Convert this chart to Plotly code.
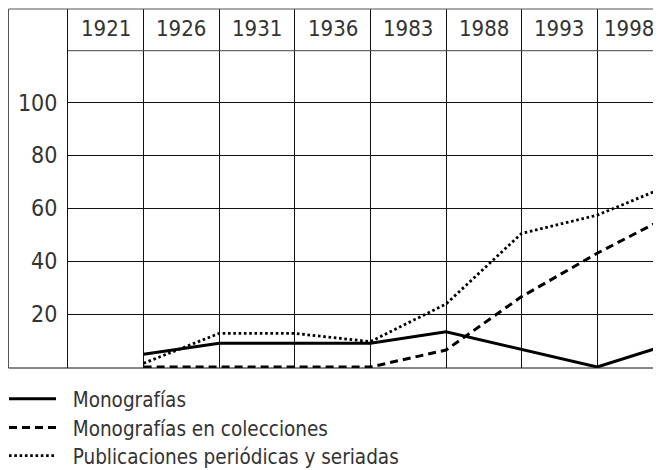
import plotly.graph_objects as go

# ---- data ----
years = ["1921", "1926", "1931", "1936", "1983", "1988", "1993", "1998"]
monografias = [4.8, 9.0, 9.0, 9.0, 13.3, 6.7, 0.0, 9.0]
colecciones = [0.0, 0.0, 0.0, 0.0, 6.4, 26.6, 43.0, 57.8]
publicaciones = [1.4, 12.7, 12.7, 9.6, 23.8, 50.5, 57.4, 69.2]
y_ticks = [20, 40, 60, 80, 100]
series_names = ["Monografías", "Monografías en colecciones",
                "Publicaciones periódicas y seriadas"]

# each year's value sits on the right edge of its column
x_pos = [i + 1 for i in range(len(years))]

FONT = "DejaVu Sans Condensed, DejaVu Sans, sans-serif"
TXT = "#333333"
OFF = 8  # page body margin offset
W, H = 661 - OFF, 470 - OFF
L, R, T, B = 60, 0, 1, 102
COL = 75.6
plot_w = W - L - R
x_max = plot_w / COL

PAD = "\u00a0\u00a0"
fig = go.Figure()
fig.add_trace(go.Scatter(x=x_pos, y=monografias, mode="lines", name=PAD + series_names[0],
                         legend="legend",
                         line=dict(color="black", width=3)))
fig.add_trace(go.Scatter(x=x_pos, y=colecciones, mode="lines", name=PAD + series_names[1],
                         legend="legend2",
                         line=dict(color="black", width=3, dash="8px,5px")))
fig.add_trace(go.Scatter(x=x_pos, y=publicaciones, mode="lines", name=PAD + series_names[2],
                         legend="legend3",
                         line=dict(color="black", width=2.8, dash="2.6px,2.7px")))

# vertical mapping (figure pixels)
y0_px, k = 367.0 - OFF, 2.645
y_lo = (y0_px - (H - B)) / k
y_hi = (y0_px - T) / k
header_y = (y0_px - (50.7 - OFF)) / k
label_y = (y0_px - (28.4 - OFF)) / k

fig.update_xaxes(range=[0, x_max], tickvals=list(range(1, len(years))),
                 showgrid=True, gridcolor="#111", gridwidth=1,
                 showticklabels=False, zeroline=False, showline=False, ticks="")
fig.update_yaxes(range=[y_lo, y_hi], tickvals=y_ticks, showgrid=True,
                 gridcolor="#111", gridwidth=1, zeroline=False,
                 showline=True, linecolor="#111", linewidth=1, ticks="",
                 tickfont=dict(family=FONT, size=23, color=TXT),
                 ticklabelstandoff=5)

left_paper = (0.5 - L) / plot_w
shapes = [
    dict(type="line", xref="paper", yref="paper", x0=left_paper, x1=1.02, y0=1, y1=1,
         line=dict(color="#555", width=1)),
    dict(type="line", xref="paper", yref="paper", x0=left_paper, x1=left_paper, y0=0, y1=1,
         line=dict(color="#555", width=1)),
    dict(type="line", xref="paper", yref="paper", x0=left_paper, x1=1.02, y0=0, y1=0,
         line=dict(color="#111", width=1)),
    dict(type="line", xref="paper", yref="y", x0=0, x1=1.02, y0=header_y, y1=header_y,
         line=dict(color="#444", width=1)),
]

# labels centred in the visible part of each header cell
annotations = [dict(x=(i + min(i + 1, x_max)) / 2, y=label_y, xref="x", yref="y",
                    text=yr, showarrow=False,
                    font=dict(family=FONT, size=22, color=TXT))
               for i, yr in enumerate(years)]

def leg(ycenter_page):
    return dict(x=(-4 - L) / plot_w, xref="paper", xanchor="left",
                y=1 - (ycenter_page - OFF) / H, yref="container", yanchor="middle",
                font=dict(family=FONT, size=20.5, color=TXT),
                itemwidth=47, bgcolor="rgba(0,0,0,0)")

fig.update_layout(
    width=W, height=H, margin=dict(l=L, r=R, t=T, b=B, pad=0, autoexpand=False),
    plot_bgcolor="white", paper_bgcolor="white",
    shapes=shapes, annotations=annotations,
    showlegend=True,
    legend=leg(399), legend2=leg(427.7), legend3=leg(455.7),
)

fig.write_html("out.html")
